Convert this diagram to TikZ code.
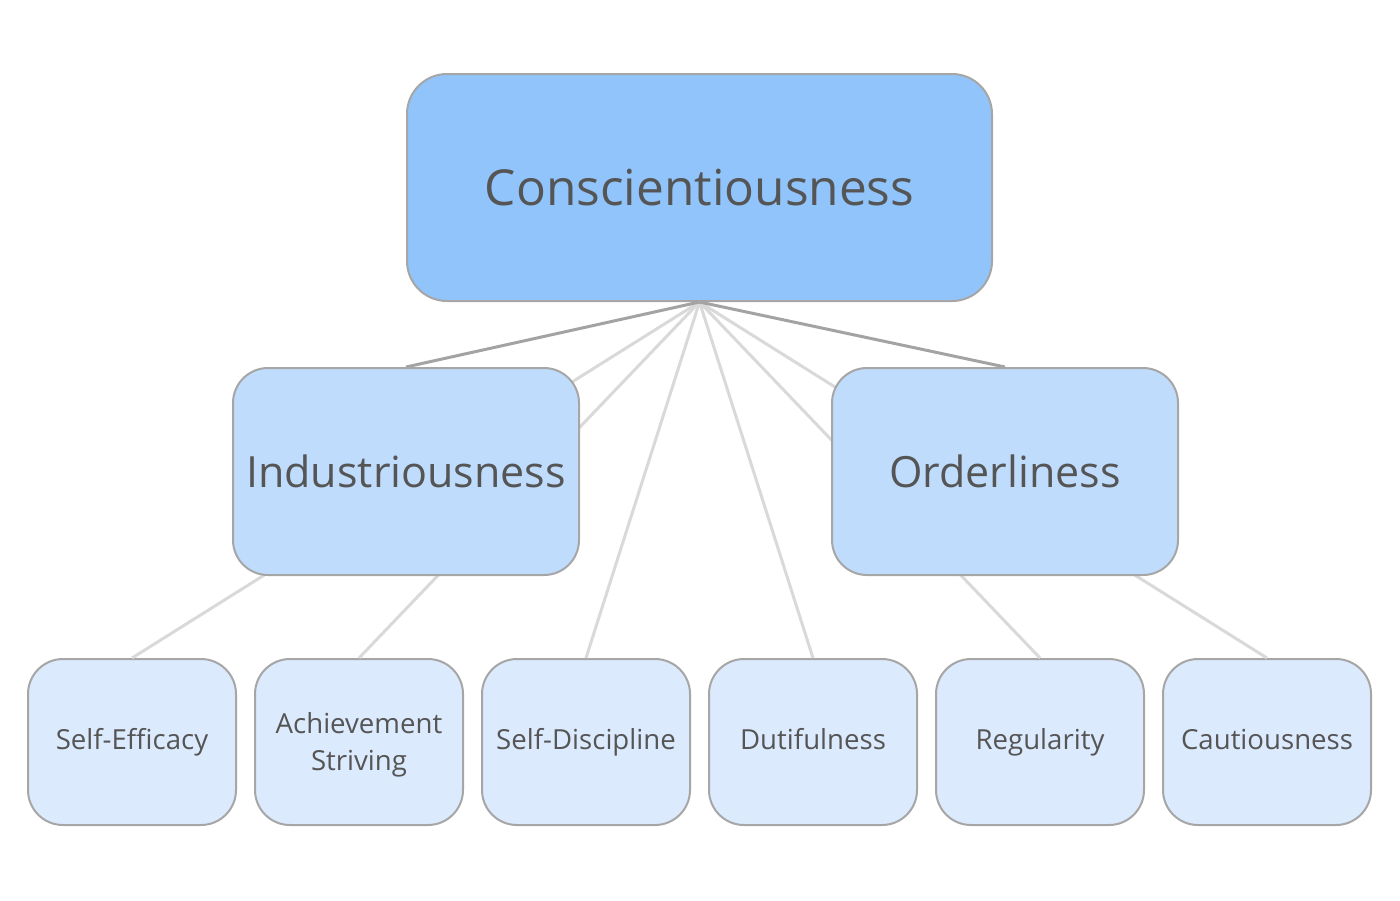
\documentclass[tikz,border=0pt]{standalone}
\usepackage{fontspec}
\setmainfont{Open Sans}
\definecolor{topfill}{HTML}{90C4FA}
\definecolor{midfill}{HTML}{BFDCFD}
\definecolor{leaffill}{HTML}{DCEAFD}
\definecolor{edgegray}{HTML}{A6A6A6}
\definecolor{darkline}{HTML}{A3A3A3}
\definecolor{lightline}{HTML}{D9D9D9}
\definecolor{txt}{HTML}{555555}
\tikzset{
  box/.style={draw=edgegray, line width=1pt, rounded corners=17.5pt, text=txt, align=center, inner sep=0pt},
  topbox/.style={box, fill=topfill, minimum width=292.5pt, minimum height=113.5pt, rounded corners=20pt, font=\fontsize{24.8}{28}\selectfont},
  midbox/.style={box, fill=midfill, minimum width=173pt, minimum height=103.5pt, font=\fontsize{21.5}{24}\selectfont},
  leafbox/.style={box, fill=leaffill, minimum width=104pt, minimum height=83pt, font=\fontsize{13.8}{18.5}\selectfont, text height=0.95em, text depth=0.22em},
  twoline/.style={text height=31pt},
  strong/.style={draw=darkline, line width=1.5pt},
  weak/.style={draw=lightline, line width=1.5pt},
}
\begin{document}
\begin{tikzpicture}[x=0.5pt,y=-0.5pt]
\useasboundingbox (0,0) rectangle (1400,900);
% leaves
\node[leafbox] (se) at (132,742) {Self-Efficacy};
\node[leafbox, twoline] (as) at (359,742) {Achievement\\Striving};
\node[leafbox] (sd) at (586,742) {Self-Discipline};
\node[leafbox] (du) at (813,742) {Dutifulness};
\node[leafbox] (re) at (1040,742) {Regularity};
\node[leafbox] (ca) at (1267,742) {Cautiousness};
% top
\node[topbox] (con) at (699.5,187.5) {Conscientiousness};
% connectors behind mid nodes
\foreach \l in {se,as,sd,du,re,ca}
  \draw[weak] (con.south) -- (\l.north);
\coordinate (indtop) at (406,367);
\coordinate (ordtop) at (1005,367);
\draw[strong] (con.south) -- (indtop);
\draw[strong] (con.south) -- (ordtop);
% mid
\node[midbox] (ind) at (406,471.5) {Industriousness};
\node[midbox] (ord) at (1005,471.5) {Orderliness};
\end{tikzpicture}
\end{document}
